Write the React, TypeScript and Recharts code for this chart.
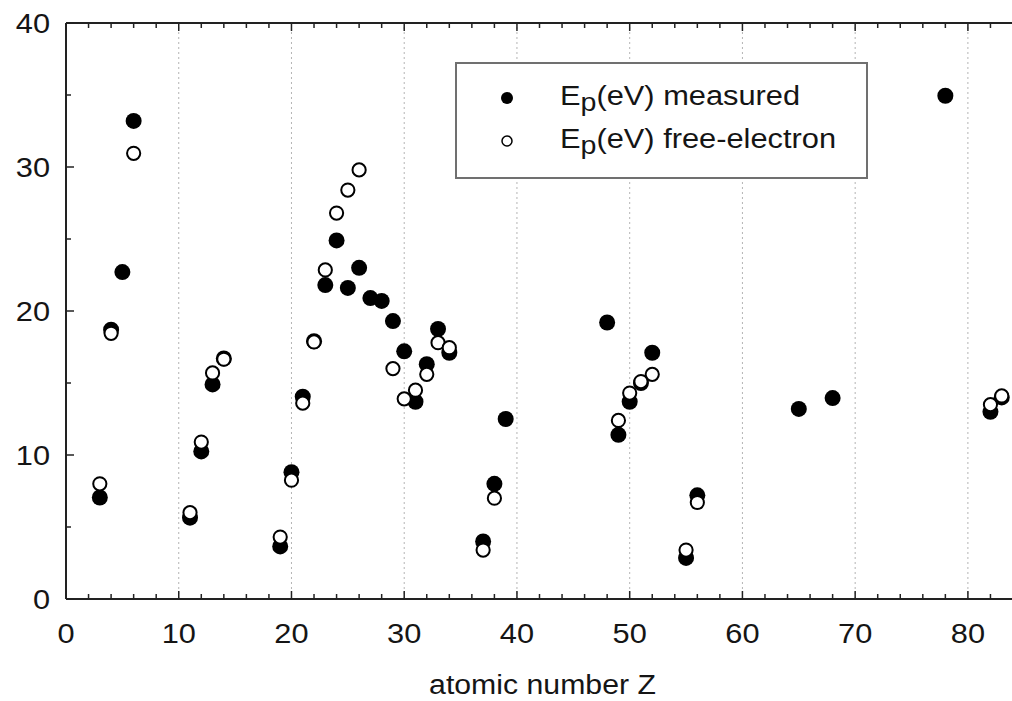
import React from 'react';
import { ScatterChart, Scatter, XAxis, YAxis, ReferenceLine, Legend } from 'recharts';

// ---- data ----
const zMeasured = [3, 4, 5, 6, 11, 12, 13, 14, 19, 20, 21, 22, 23, 24, 25, 26, 27, 28, 29, 30, 31, 32, 33, 34, 37, 38, 39, 48, 49, 50, 51, 52, 55, 56, 65, 68, 78, 82, 83];
const eMeasured = [7.05, 18.7, 22.7, 33.2, 5.65, 10.25, 14.9, 16.7, 3.65, 8.8, 14.05, 17.9, 21.8, 24.9, 21.6, 23.0, 20.9, 20.7, 19.3, 17.2, 13.7, 16.3, 18.75, 17.1, 4.0, 8.0, 12.5, 19.2, 11.4, 13.7, 15.0, 17.1, 2.85, 7.2, 13.2, 13.95, 34.95, 13.0, 14.0];

const zFree = [3, 4, 6, 11, 12, 13, 14, 19, 20, 21, 22, 23, 24, 25, 26, 29, 30, 31, 32, 33, 34, 37, 38, 49, 50, 51, 52, 55, 56, 82, 83];
const eFree = [8.0, 18.45, 30.95, 6.0, 10.9, 15.7, 16.65, 4.3, 8.25, 13.6, 17.85, 22.85, 26.8, 28.4, 29.8, 16.0, 13.9, 14.5, 15.6, 17.8, 17.45, 3.4, 7.0, 12.4, 14.3, 15.1, 15.6, 3.4, 6.7, 13.5, 14.1];

const xTicks = [0, 2, 4, 6, 8, 10, 12, 14, 16, 18, 20, 22, 24, 26, 28, 30, 32, 34, 36, 38, 40, 42, 44, 46, 48, 50, 52, 54, 56, 58, 60, 62, 64, 66, 68, 70, 72, 74, 76, 78, 80, 82, 84];
const yTicks = [0, 5, 10, 15, 20, 25, 30, 35, 40];
const gridZ = [10, 20, 30, 40, 50, 60, 70, 80];
const xDomain = [0, 84];
const yDomain = [0, 40];
const seriesNames = ['measured', 'free-electron'];
const xTitle = 'atomic number Z';

const measuredData = zMeasured.map((z, i) => ({ z, e: eMeasured[i] }));
const freeData = zFree.map((z, i) => ({ z, e: eFree[i] }));

const FONT = '"Liberation Sans", Arial, Helvetica, sans-serif';
const TXT = '#151515';
const AX = '#222';
const SX = 1.14;

function BottomTick(props: any) {
  const { x, y, payload } = props;
  const v = payload.value;
  const major = v % 10 === 0;
  return (
    <g>
      <line x1={x} y1={y} x2={x} y2={y - (major ? 8 : 5)} stroke={AX} strokeWidth={1.5} />
      {major && (
        <text transform={`translate(${x},${y + 44}) scale(${SX},1)`} textAnchor="middle" fontSize={27} fill={TXT} fontFamily={FONT}>
          {v}
        </text>
      )}
    </g>
  );
}

function TopTick(props: any) {
  const { x, y, payload } = props;
  const major = payload.value % 10 === 0;
  return <line x1={x} y1={y} x2={x} y2={y + (major ? 8 : 5)} stroke={AX} strokeWidth={1.5} />;
}

function LeftTick(props: any) {
  const { x, y, payload } = props;
  const v = payload.value;
  const major = v % 10 === 0;
  return (
    <g>
      <line x1={x} y1={y} x2={x + (major ? 8 : 5)} y2={y} stroke={AX} strokeWidth={1.5} />
      {major && (
        <text transform={`translate(${x - 16},${y + 9.5}) scale(${SX},1)`} textAnchor="end" fontSize={27} fill={TXT} fontFamily={FONT}>
          {v}
        </text>
      )}
    </g>
  );
}

function XTitle(props: any) {
  const vb = props.viewBox || {};
  const cx = vb.x + vb.width / 2 + 3;
  const y = vb.y + 95;
  return (
    <text transform={`translate(${cx},${y}) scale(1.12,1)`} textAnchor="middle" fontSize={27} fill={TXT} fontFamily={FONT}>
      {xTitle}
    </text>
  );
}

const filledDot = (p: any) => <circle cx={p.cx} cy={p.cy} r={8} fill="#000" />;
const openDot = (p: any) => <circle cx={p.cx} cy={p.cy} r={6.6} fill="#fff" stroke="#000" strokeWidth={2} />;

function LegendBox() {
  const rows = [
    { name: seriesNames[0], filled: true, y: 43, my: 36 },
    { name: seriesNames[1], filled: false, y: 86, my: 79 },
  ];
  return (
    <svg width={413} height={117} style={{ display: 'block' }}>
      <rect x={1} y={1} width={411} height={115} fill="#fff" stroke="#707070" strokeWidth={2} />
      {rows.map((r) => (
        <g key={r.name}>
          {r.filled ? (
            <circle cx={52} cy={r.my} r={6} fill="#000" />
          ) : (
            <circle cx={52} cy={r.my} r={5} fill="#fff" stroke="#000" strokeWidth={1.5} />
          )}
          <text transform={`translate(105,${r.y}) scale(1.1,1)`} fontSize={28} fill={TXT} fontFamily={FONT}>
            E
            <tspan dy={6} fontSize={26}>p</tspan>
            <tspan dy={-6}>(eV) {r.name}</tspan>
          </text>
        </g>
      ))}
    </svg>
  );
}

export default function App() {
  return (
    <div style={{ width: 1012, height: 701, overflow: 'hidden', position: 'relative', background: '#fff' }}>
      <style>{'body{margin:0;}'}</style>
      <ScatterChart width={1020} height={701} margin={{ top: 0, right: 7, bottom: 0, left: 0 }}>
        <XAxis
          dataKey="z"
          type="number"
          domain={xDomain}
          ticks={xTicks}
          interval={0}
          height={102}
          tickSize={0}
          tickMargin={0}
          tickLine={false}
          axisLine={{ stroke: AX, strokeWidth: 2 }}
          tick={<BottomTick />}
          label={<XTitle />}
          allowDataOverflow
        />
        <XAxis
          xAxisId="top"
          orientation="top"
          dataKey="z"
          type="number"
          domain={xDomain}
          ticks={xTicks}
          interval={0}
          height={23}
          tickSize={0}
          tickMargin={0}
          tickLine={false}
          axisLine={{ stroke: AX, strokeWidth: 2 }}
          tick={<TopTick />}
          allowDataOverflow
        />
        <YAxis
          dataKey="e"
          type="number"
          domain={yDomain}
          ticks={yTicks}
          interval={0}
          width={66}
          tickSize={0}
          tickMargin={0}
          tickLine={false}
          axisLine={{ stroke: AX, strokeWidth: 2 }}
          tick={<LeftTick />}
          allowDataOverflow
        />
        {gridZ.map((g) => (
          <ReferenceLine key={g} x={g} stroke="#b4b4b4" strokeWidth={1} strokeDasharray="2 3" />
        ))}
        <Legend
          layout="vertical"
          align="center"
          verticalAlign="middle"
          wrapperStyle={{ left: 455, top: 62, width: 413, height: 117 }}
          content={() => <LegendBox />}
        />
        <Scatter name={seriesNames[0]} data={measuredData} shape={filledDot} isAnimationActive={false} />
        <Scatter name={seriesNames[1]} data={freeData} shape={openDot} isAnimationActive={false} />
      </ScatterChart>
    </div>
  );
}
